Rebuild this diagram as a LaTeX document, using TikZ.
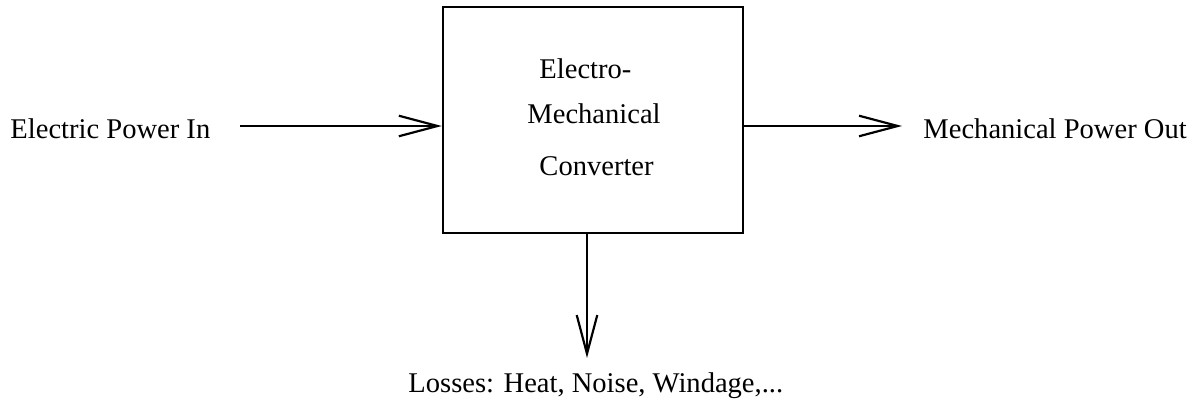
\documentclass[tikz,border=0pt]{standalone}
\usepackage{fontspec}
\setmainfont{Liberation Serif}
\usetikzlibrary{arrows.meta, positioning}

\tikzset{
    convbox/.style={draw, line width=1pt, minimum width=124pt, minimum height=93.4pt, inner sep=0pt},
    lbl/.style={anchor=base west, inner sep=0pt, font=\fontsize{11.8}{14}\selectfont},
    flow/.style={line width=0.9pt, -{Straight Barb[length=16pt, width=8.5pt, line width=0.9pt]}}
}

\begin{document}
\begin{tikzpicture}[x=0.4133pt, y=-0.4133pt]
    \useasboundingbox (0,0) rectangle (1195,411);
    % converter block
    \node[convbox] (conv) at (593,120) {};
    \node[lbl] (t1) at (539,79) {Electro-};
    \node[lbl] (t2) at (527,124) {Mechanical};
    \node[lbl] (t3) at (539,176) {Converter};
    % labels
    \node[lbl] (elin) at (10,139) {Electric Power In};
    \node[lbl] (mechout) at (923,139) {Mechanical Power Out};
    \node[lbl] (losses) at (408,393) {Losses: Heat, Noise, Windage,...};
    % flows
    \coordinate (inA) at (240,126);
    \coordinate (outB) at (902,126);
    \coordinate (lossC) at (587,358);
    \draw[flow] (inA) -- (inA -| conv.west);
    \draw[flow] (outB -| conv.east) -- (outB);
    \draw[flow] (lossC |- conv.south) -- (lossC);
\end{tikzpicture}
\end{document}
